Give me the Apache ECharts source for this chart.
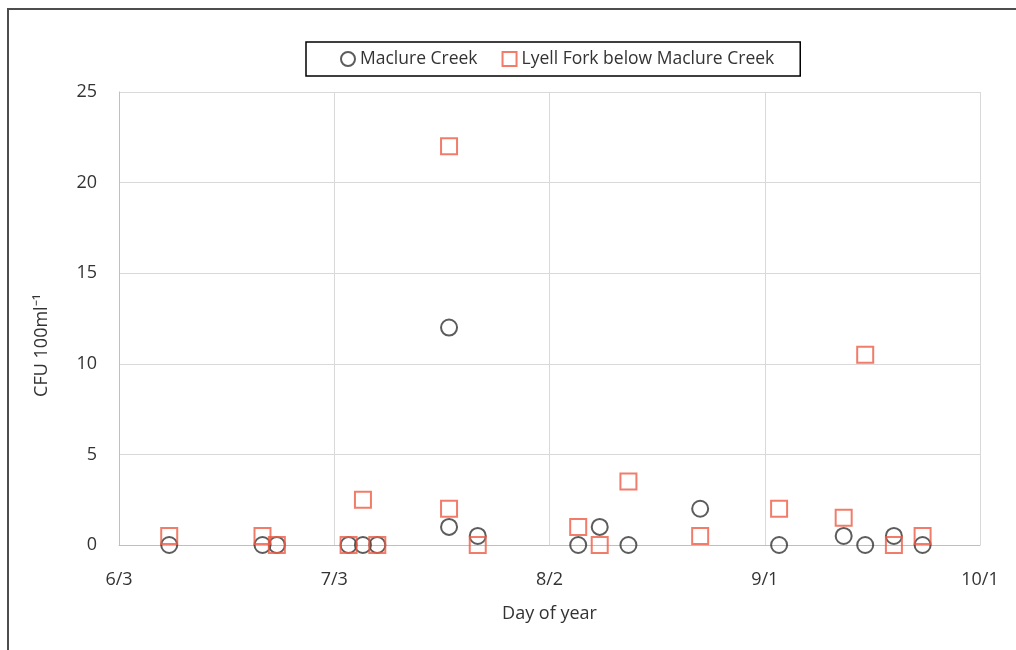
<!DOCTYPE html>
<html>
<head>
<meta charset="utf-8">
<script src="https://cdn.jsdelivr.net/npm/echarts@6/dist/echarts.min.js"></script>
<style>
  html, body { margin: 0; padding: 0; background: #fff; }
  #chart { width: 1016px; height: 650px; }
</style>
</head>
<body>
<div id="chart"></div>
<script>
// sample dates (month/day)
var sampleDates = ['6/10', '6/23', '6/25', '7/5', '7/7', '7/9', '7/19', '7/19', '7/23',
  '8/6', '8/9', '8/13', '8/23', '9/3', '9/12', '9/15', '9/19', '9/23']
// CFU per 100 ml
var maclureCreek = [0, 0, 0, 0, 0, 0, 12, 1, 0.5, 0, 1, 0, 2, 0, 0.5, 0, 0.5, 0]
var lyellFork = [0.5, 0.5, 0, 0, 2.5, 0, 22, 2, 0, 1, 0, 3.5, 0.5, 2, 1.5, 10.5, 0, 0.5]
var tickLabels = ['6/3', '7/3', '8/2', '9/1', '10/1']
var seriesNames = ['Maclure Creek', 'Lyell Fork below Maclure Creek']

// days since 6/3
function dayOffset(md) {
  var p = md.split('/')
  var t = Date.UTC(2015, +p[0] - 1, +p[1])
  return Math.round((t - Date.UTC(2015, 5, 3)) / 86400000)
}
function pairs(values) {
  return values.map(function(v, i) { return [dayOffset(sampleDates[i]), v] })
}

var font = '"Open Sans", "Liberation Sans", sans-serif'
var chart = echarts.init(document.getElementById('chart'))
chart.setOption({
  animation: false,
  textStyle: { fontFamily: font },
  graphic: [{
    type: 'rect',
    shape: { x: 8, y: 9, width: 1100, height: 700 },
    style: { fill: 'none', stroke: '#4d4d4d', lineWidth: 2 }
  }],
  legend: {
    left: 306,
    top: 42,
    padding: [8, 26, 8, 34],
    itemGap: 24,
    itemWidth: 14,
    itemHeight: 14,
    itemTextGap: 4,
    borderColor: '#000',
    borderWidth: 1.5,
    textStyle: { fontFamily: font, fontSize: 17.5, color: '#333' },
    data: seriesNames
  },
  grid: { left: 119, right: 36, top: 92, bottom: 105 },
  xAxis: {
    type: 'value',
    min: 0,
    max: 120,
    interval: 30,
    name: 'Day of year',
    nameLocation: 'middle',
    nameGap: 60,
    nameTextStyle: { fontSize: 18, color: '#333' },
    axisLine: { lineStyle: { color: '#bfbfbf' } },
    axisTick: { show: false },
    axisLabel: {
      fontSize: 18,
      color: '#333',
      margin: 26,
      formatter: function(v) { return tickLabels[v / 30] }
    },
    splitLine: { show: true, lineStyle: { color: '#d9d9d9' } }
  },
  yAxis: {
    type: 'value',
    min: 0,
    max: 25,
    interval: 5,
    name: 'CFU 100ml⁻¹',
    nameLocation: 'middle',
    nameGap: 68,
    nameTextStyle: { fontSize: 18, color: '#333', padding: [0, 54, 0, 0] },
    axisLine: { show: true, lineStyle: { color: '#bfbfbf' } },
    axisTick: { show: false },
    axisLabel: { fontSize: 18, color: '#333', margin: 22 },
    splitLine: { show: true, lineStyle: { color: '#d9d9d9' } }
  },
  series: [
    {
      name: seriesNames[0],
      type: 'scatter',
      symbol: 'circle',
      symbolSize: 16,
      itemStyle: { color: 'rgba(255,255,255,0)', borderColor: '#333', borderWidth: 2 },
      data: pairs(maclureCreek)
    },
    {
      name: seriesNames[1],
      type: 'scatter',
      symbol: 'rect',
      symbolSize: 16,
      itemStyle: { color: 'rgba(255,255,255,0)', borderColor: '#ee5b45', borderWidth: 2 },
      data: pairs(lyellFork)
    }
  ]
})
</script>
</body>
</html>
